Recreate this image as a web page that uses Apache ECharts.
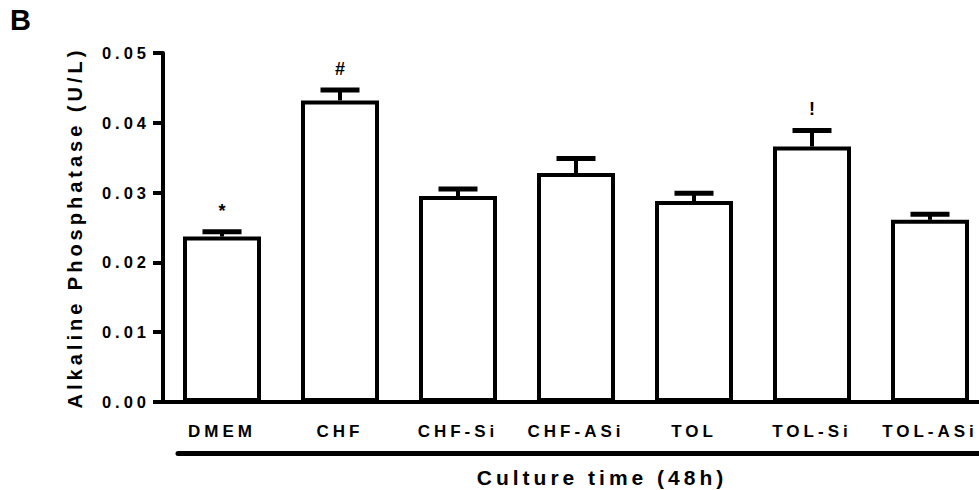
<!DOCTYPE html>
<html>
<head>
<meta charset="utf-8">
<script src="https://cdn.jsdelivr.net/npm/echarts@6/dist/echarts.min.js"></script>
<style>
  html, body { margin: 0; padding: 0; background: #fff; }
  #chart { width: 979px; height: 490px; }
  #chart svg text { letter-spacing: 4px; }
</style>
</head>
<body>
<div id="chart"></div>
<script>
// ---- data ----
var categories = ['DMEM', 'CHF', 'CHF-Si', 'CHF-ASi', 'TOL', 'TOL-Si', 'TOL-ASi'];
var means = [0.0237, 0.0432, 0.0295, 0.0328, 0.0288, 0.0366, 0.0261];
var sem = [0.0007, 0.0015, 0.0010, 0.0021, 0.0011, 0.0023, 0.0008];
var annotations = ['*', '#', '', '', '', '!', ''];
var yTicks = [0, 0.01, 0.02, 0.03, 0.04, 0.05];
var yTitle = 'Alkaline Phosphatase (U/L)';
var xTitle = 'Culture time (48h)';
var panelLabel = 'B';

var FONT = '"Liberation Sans", Arial, Helvetica, sans-serif';

var errData = categories.map(function (c, i) { return [i, means[i], sem[i]]; });

var chart = echarts.init(document.getElementById('chart'), null, { renderer: 'svg' });
chart.setOption({
  animation: false,
  backgroundColor: '#fff',
  textStyle: { fontFamily: FONT },
  graphic: [{
    type: 'text', left: 10, top: 5,
    style: { text: panelLabel, font: 'bold 29px ' + FONT, fill: '#000' }
  }],
  grid: [
    { left: 163, width: 826, top: 53, height: 349, outerBoundsMode: 'none', containLabel: false },
    { left: 178, width: 848, top: 452, height: 1, outerBoundsMode: 'none', containLabel: false }
  ],
  xAxis: [{
    type: 'category',
    gridIndex: 0,
    data: categories,
    axisLine: { lineStyle: { color: '#000', width: 4 } },
    axisTick: { show: false },
    axisLabel: {
      interval: 0, margin: 21, color: '#000',
      fontFamily: FONT, fontWeight: 'bold', fontSize: 17
    }
  }, {
    type: 'value',
    gridIndex: 1,
    min: 0, max: 1,
    axisLine: { show: true, lineStyle: { color: '#000', width: 5 } },
    axisTick: { show: false },
    axisLabel: { show: false },
    splitLine: { show: false },
    name: xTitle,
    nameLocation: 'middle',
    nameGap: 14,
    nameTextStyle: { color: '#000', fontFamily: FONT, fontWeight: 'bold', fontSize: 21 }
  }],
  yAxis: [{
    type: 'value',
    gridIndex: 0,
    min: yTicks[0], max: yTicks[yTicks.length - 1], interval: yTicks[1] - yTicks[0],
    axisLine: { show: true, lineStyle: { color: '#000', width: 4 } },
    axisTick: { show: true, length: 10, lineStyle: { color: '#000', width: 4 } },
    splitLine: { show: false },
    axisLabel: {
      margin: 13, color: '#000', fontFamily: FONT, fontWeight: 'bold', fontSize: 16.5,
      formatter: function (v) { return v.toFixed(2); }
    },
    name: yTitle,
    nameLocation: 'middle',
    nameGap: 78,
    nameTextStyle: { color: '#000', fontFamily: FONT, fontWeight: 'bold', fontSize: 20 }
  }, {
    type: 'value', gridIndex: 1, show: false, min: 0, max: 1
  }],
  series: [{
    type: 'bar',
    xAxisIndex: 0, yAxisIndex: 0,
    data: means,
    barWidth: 78,
    itemStyle: { color: '#fff', borderColor: '#000', borderWidth: 4 },
    z: 2
  }, {
    type: 'custom',
    xAxisIndex: 0, yAxisIndex: 0,
    data: errData,
    z: 3,
    renderItem: function (params, api) {
      var x = api.value(0), m = api.value(1), e = api.value(2);
      var base = api.coord([x, m]);
      var top = api.coord([x, m + e]);
      var capW = 39;
      var children = [
        { type: 'line', shape: { x1: base[0], y1: base[1], x2: top[0], y2: top[1] },
          style: { stroke: '#000', lineWidth: 4 } },
        { type: 'line', shape: { x1: top[0] - capW / 2, y1: top[1], x2: top[0] + capW / 2, y2: top[1] },
          style: { stroke: '#000', lineWidth: 5 } }
      ];
      var mark = annotations[params.dataIndex];
      if (mark) {
        children.push({
          type: 'text', x: top[0] + 2, y: top[1] - 21,
          style: { text: mark, textAlign: 'center', textVerticalAlign: 'middle',
                   font: 'bold 18px ' + FONT, fill: '#000' }
        });
      }
      return { type: 'group', children: children };
    }
  }]
});
</script>
</body>
</html>
